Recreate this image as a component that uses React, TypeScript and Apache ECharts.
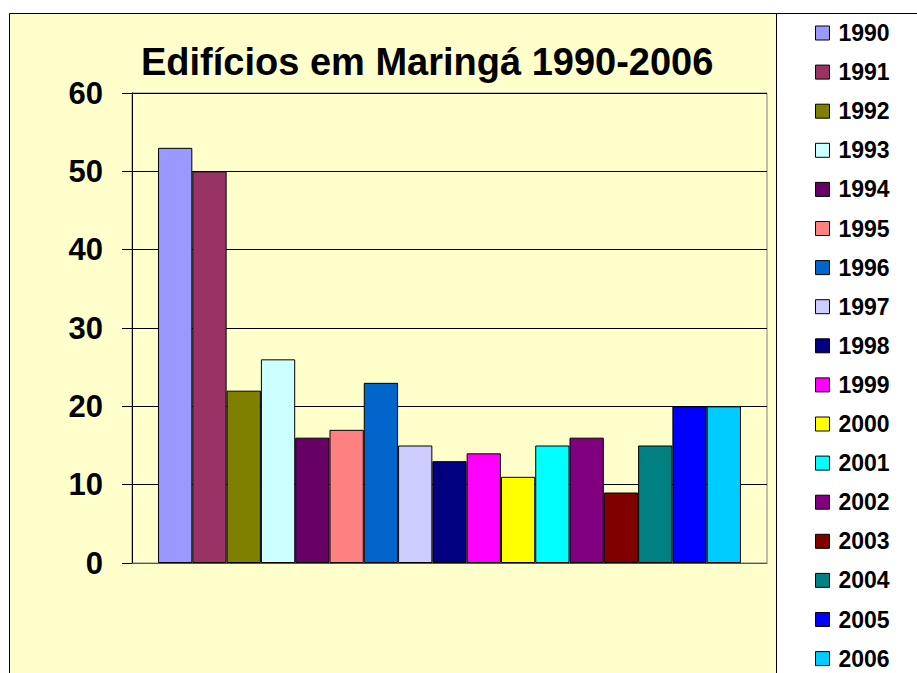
import React, { useEffect, useRef } from "react";
import * as echarts from "echarts";

const years = ["1990","1991","1992","1993","1994","1995","1996","1997","1998","1999","2000","2001","2002","2003","2004","2005","2006"];
const values = [53, 50, 22, 26, 16, 17, 23, 15, 13, 14, 11, 15, 16, 9, 15, 20, 20];
const colors = ["#9999FF","#993366","#808000","#CCFFFF","#660066","#FF8080","#0066CC","#CCCCFF","#000080","#FF00FF","#FFFF00","#00FFFF","#800080","#800000","#008080","#0000FF","#00CCFF"];
const yTicks = [0, 10, 20, 30, 40, 50, 60];

const FONT = "'Liberation Sans', Arial, sans-serif";

export default function App() {
  const ref = useRef<HTMLDivElement>(null);
  useEffect(() => {
    document.body.style.margin = "0";
    const chart = echarts.init(ref.current!, null, { renderer: "svg" });
    chart.setOption({
      animation: false,
      backgroundColor: "#FFFFFF",
      graphic: [
        { type: "rect", z: -10, shape: { x: 9.5, y: 13.5, width: 767, height: 700 }, style: { fill: "#FFFFCC", stroke: "#000", lineWidth: 1 } },
        { type: "line", z: -10, shape: { x1: 776, y1: 13.5, x2: 917, y2: 13.5 }, style: { stroke: "#000", lineWidth: 1 } },
      ],
      title: {
        text: "Edifícios em Maringá 1990-2006",
        left: 141,
        top: 43,
        padding: 0,
        textStyle: { fontFamily: FONT, fontSize: 38, fontWeight: "bold", color: "#000" },
      },
      legend: {
        orient: "vertical",
        left: 815,
        top: 21,
        height: 660,
        padding: 0,
        itemWidth: 14,
        itemHeight: 14,
        itemGap: 15.1,
        icon: "rect",
        data: years,
        itemStyle: { borderColor: "#000", borderWidth: 1 },
        textStyle: { fontFamily: FONT, fontSize: 23, fontWeight: "bold", color: "#000", lineHeight: 24, padding: [0, 0, 0, 4] },
      },
      grid: {
        left: 132, top: 93, width: 635, height: 470,
        show: true, borderColor: "#808080", borderWidth: 1, backgroundColor: "transparent",
      },
      xAxis: {
        type: "category",
        data: [""],
        axisLine: { show: true, lineStyle: { color: "#555" } },
        axisTick: { show: false },
        axisLabel: { show: false },
      },
      yAxis: {
        type: "value",
        min: yTicks[0],
        max: yTicks[yTicks.length - 1],
        interval: 10,
        axisLine: { show: true, lineStyle: { color: "#000" } },
        axisTick: { show: true, length: 10, lineStyle: { color: "#000" } },
        axisLabel: { fontFamily: FONT, fontSize: 31, fontWeight: "bold", color: "#000", margin: 29 },
        splitLine: { show: true, lineStyle: { color: "#000", width: 1 } },
      },
      series: years.map((y, i) => ({
        name: y,
        type: "bar",
        data: [values[i]],
        barGap: "0%",
        barCategoryGap: "8.2%",
        itemStyle: { color: colors[i], borderColor: "#000", borderWidth: 1 },
      })),
    });
    return () => chart.dispose();
  }, []);
  return <div ref={ref} style={{ position: "absolute", left: 0, top: 0, width: 917, height: 673 }} />;
}
